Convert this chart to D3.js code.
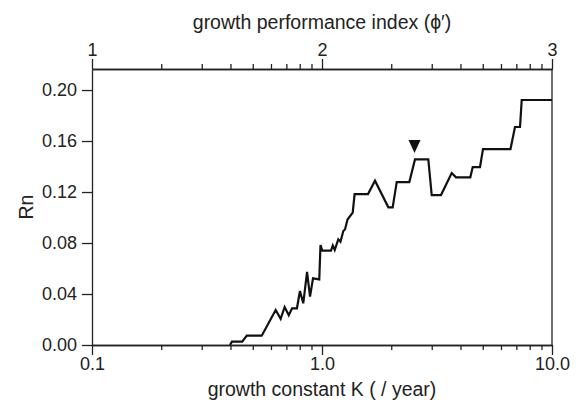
<!DOCTYPE html>
<html>
<head>
<meta charset="utf-8">
<script src="https://cdn.jsdelivr.net/npm/d3@7"></script>
<style>
	html, body { margin: 0; padding: 0; background: #fff; }
	svg { display: block; font-family: "Liberation Sans", Arial, Helvetica, sans-serif; }
	.axis path, .axis line { stroke: #222; stroke-width: 1.3px; }
	.axis text { fill: #222; font-size: 18px; }
</style>
</head>
<body>
<div id="chart"></div>
<script>
// growth constant K (per year) and Rn
var kValues = [0.398, 0.406, 0.450, 0.471, 0.547, 0.629, 0.661, 0.688, 0.717, 0.741,
	0.778, 0.802, 0.829, 0.861, 0.887, 0.914, 0.973, 0.985, 1.003, 1.094,
	1.114, 1.136, 1.177, 1.203, 1.238, 1.259, 1.291, 1.360, 1.386, 1.585,
	1.700, 1.943, 2.029, 2.113, 2.397, 2.537, 2.899, 2.999, 3.291, 3.664,
	3.825, 4.414, 4.522, 4.864, 5.012, 6.600, 6.903, 7.260, 7.385, 10.0];
var rnValues = [0.0000, 0.0026, 0.0026, 0.0073, 0.0073, 0.0275, 0.0206, 0.0298, 0.0233, 0.0288,
	0.0288, 0.0424, 0.0327, 0.0573, 0.0379, 0.0523, 0.0515, 0.0784, 0.0740, 0.0740,
	0.0780, 0.0745, 0.0829, 0.0810, 0.0894, 0.0906, 0.0984, 0.1038, 0.1184, 0.1184,
	0.1289, 0.1080, 0.1080, 0.1278, 0.1278, 0.1456, 0.1456, 0.1176, 0.1176, 0.1349,
	0.1315, 0.1315, 0.1396, 0.1396, 0.1537, 0.1537, 0.1710, 0.1710, 0.1922, 0.1922];

// marker (filled triangle) above the peak
var markerK = 2.525;
var markerRn = 0.1506;

var bottomTicks = [0.1, 1, 10];
var bottomLabels = ["0.1", "1.0", "10.0"];
var topLabels = ["1", "2", "3"];   // phi' = log10(K) + 2
var yTicks = [0, 0.04, 0.08, 0.12, 0.16, 0.20];

var width = 580, height = 406;
var margin = {top: 69, right: 28, bottom: 61, left: 92};

var svg = d3.select("#chart").append("svg")
	.attr("width", width)
	.attr("height", height);

var x = d3.scaleLog()
	.domain([0.1, 10])
	.range([margin.left, width - margin.right]);
var y = d3.scaleLinear()
	.domain([0, 0.2165])
	.range([height - margin.bottom, margin.top]);

// minor ticks 0.2..0.9, 2..9
var minorTicks = [];
[0.1, 1].forEach(function(d) {
	for (var i = 2; i <= 9; i++) minorTicks.push(d * i);
});

// bottom axis
svg.append("g").attr("class", "axis")
	.attr("transform", "translate(0," + (height - margin.bottom) + ")")
	.call(d3.axisBottom(x).tickValues(minorTicks).tickSize(5).tickFormat("").tickSizeOuter(0));
svg.append("g").attr("class", "axis")
	.attr("transform", "translate(0," + (height - margin.bottom) + ")")
	.call(d3.axisBottom(x).tickValues(bottomTicks).tickSize(10).tickSizeOuter(0).tickPadding(2)
		.tickFormat(function(d, i) { return bottomLabels[i]; }));

// top axis
svg.append("g").attr("class", "axis")
	.attr("transform", "translate(0," + margin.top + ")")
	.call(d3.axisTop(x).tickValues(minorTicks).tickSize(5).tickFormat("").tickSizeOuter(0));
svg.append("g").attr("class", "axis")
	.attr("transform", "translate(0," + margin.top + ")")
	.call(d3.axisTop(x).tickValues(bottomTicks).tickSize(10).tickSizeOuter(0).tickPadding(3)
		.tickFormat(function(d, i) { return topLabels[i]; }));

// left axis
svg.append("g").attr("class", "axis")
	.attr("transform", "translate(" + margin.left + ",0)")
	.call(d3.axisLeft(y).tickValues(yTicks).tickSize(10).tickSizeOuter(0).tickPadding(5)
		.tickFormat(d3.format(".2f")));

// right border
svg.append("line")
	.attr("x1", width - margin.right).attr("x2", width - margin.right)
	.attr("y1", margin.top).attr("y2", height - margin.bottom)
	.style("stroke", "#222").style("stroke-width", 1.3);

// data line
var data = kValues.map(function(k, i) { return {k: k, rn: rnValues[i]}; });
var line = d3.line()
	.x(function(d) { return x(d.k); })
	.y(function(d) { return y(d.rn); });
svg.append("path")
	.datum(data)
	.attr("d", line)
	.style("fill", "none")
	.style("stroke", "#111")
	.style("stroke-width", 2.2)
	.style("stroke-linejoin", "miter");

// triangle marker, tip pointing down
var mx = x(markerK), my = y(markerRn);
svg.append("path")
	.attr("d", "M" + (mx - 6) + "," + (my - 13) + "L" + (mx + 6) + "," + (my - 13) + "L" + mx + "," + my + "Z")
	.style("fill", "#111");

// axis titles
svg.append("text")
	.attr("x", (margin.left + width - margin.right) / 2)
	.attr("y", 29)
	.attr("text-anchor", "middle")
	.style("font-size", "19.5px").style("fill", "#222")
	.text("growth performance index (\u03d5\u2032)");
svg.append("text")
	.attr("x", (margin.left + width - margin.right) / 2)
	.attr("y", 396)
	.attr("text-anchor", "middle")
	.style("font-size", "19.5px").style("fill", "#222")
	.text("growth constant K ( / year)");
svg.append("text")
	.attr("transform", "translate(33," + ((margin.top + height - margin.bottom) / 2) + ") rotate(-90)")
	.attr("text-anchor", "middle")
	.style("font-size", "19.5px").style("fill", "#222")
	.text("Rn");
</script>
</body>
</html>
